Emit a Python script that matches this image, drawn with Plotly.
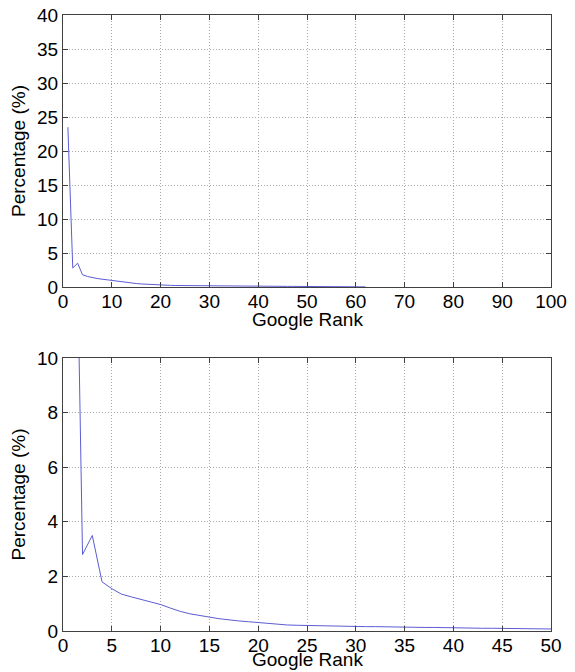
import plotly.graph_objects as go

ranks = list(range(1, 63))
percentages = [
    23.5, 2.8, 3.5, 1.8, 1.55, 1.35, 1.25, 1.15, 1.05, 0.97,
    0.84, 0.72, 0.63, 0.56, 0.51, 0.45, 0.40, 0.37, 0.34, 0.31,
    0.27, 0.24, 0.22, 0.21, 0.20, 0.19, 0.18, 0.18, 0.17, 0.17,
    0.16, 0.16, 0.15, 0.15, 0.14, 0.14, 0.13, 0.13, 0.12, 0.12,
    0.11, 0.11, 0.10, 0.10, 0.10, 0.09, 0.09, 0.09, 0.08, 0.08,
    0.08, 0.08, 0.07, 0.07, 0.07, 0.06, 0.06, 0.06, 0.05, 0.05,
    0.03, 0.02,
]
top_xticks = [0, 10, 20, 30, 40, 50, 60, 70, 80, 90, 100]
top_yticks = [0, 5, 10, 15, 20, 25, 30, 35, 40]
bot_xticks = [0, 5, 10, 15, 20, 25, 30, 35, 40, 45, 50]
bot_yticks = [0, 2, 4, 6, 8, 10]
x_title = "Google Rank"
y_title = "Percentage (%)"

line_color = "#5c5cd4"
font_family = "Liberation Sans, Arial, sans-serif"

fig = go.Figure()
fig.add_trace(go.Scatter(x=ranks, y=percentages, mode="lines",
                         line=dict(color=line_color, width=1),
                         xaxis="x", yaxis="y", showlegend=False))
fig.add_trace(go.Scatter(x=ranks, y=percentages, mode="lines",
                         line=dict(color=line_color, width=1),
                         xaxis="x2", yaxis="y2", showlegend=False))

# page body has an 8px default margin; size the figure to fit the window
W, H = 567, 664
ML, MR, MT, MB = 55, 24, 7, 41
PH = H - MT - MB
axis_common = dict(
    showline=True, mirror="ticks", linecolor="#404040", linewidth=1,
    ticks="inside", ticklen=5, tickcolor="#404040",
    showgrid=True, gridcolor="#a8a8a8", griddash="1px,2px", gridwidth=1,
    zeroline=False, automargin=False, ticklabeloverflow="allow",
    tickfont=dict(size=19, color="black", family=font_family),
)

fig.update_layout(
    width=W, height=H,
    margin=dict(l=ML, r=MR, t=MT, b=MB),
    paper_bgcolor="white", plot_bgcolor="white",
    font=dict(family=font_family, color="black"),
    xaxis=dict(domain=[0, 1], anchor="y", range=[0, 100], tickvals=top_xticks,
               ticklabelstandoff=-3, **axis_common),
    yaxis=dict(domain=[1 - 272 / PH, 1], anchor="x", range=[0, 40], tickvals=top_yticks,
               title=dict(text=y_title, font=dict(size=19), standoff=8), **axis_common),
    xaxis2=dict(domain=[0, 1], anchor="y2", range=[0, 50], tickvals=bot_xticks,
                ticklabelstandoff=-3, **axis_common),
    yaxis2=dict(domain=[0, 1 - 343 / PH], anchor="x2", range=[0, 10], tickvals=bot_yticks,
                title=dict(text=y_title, font=dict(size=19), standoff=8), **axis_common),
    annotations=[
        dict(text=x_title, xref="paper", yref="paper", x=0.5, y=(H - MB - 311) / PH,
             xanchor="center", yanchor="middle", showarrow=False, font=dict(size=19)),
        dict(text=x_title, xref="paper", yref="paper", x=0.5, y=(H - MB - 651) / PH,
             xanchor="center", yanchor="middle", showarrow=False, font=dict(size=19)),
    ],
)

fig.write_html("out.html")
